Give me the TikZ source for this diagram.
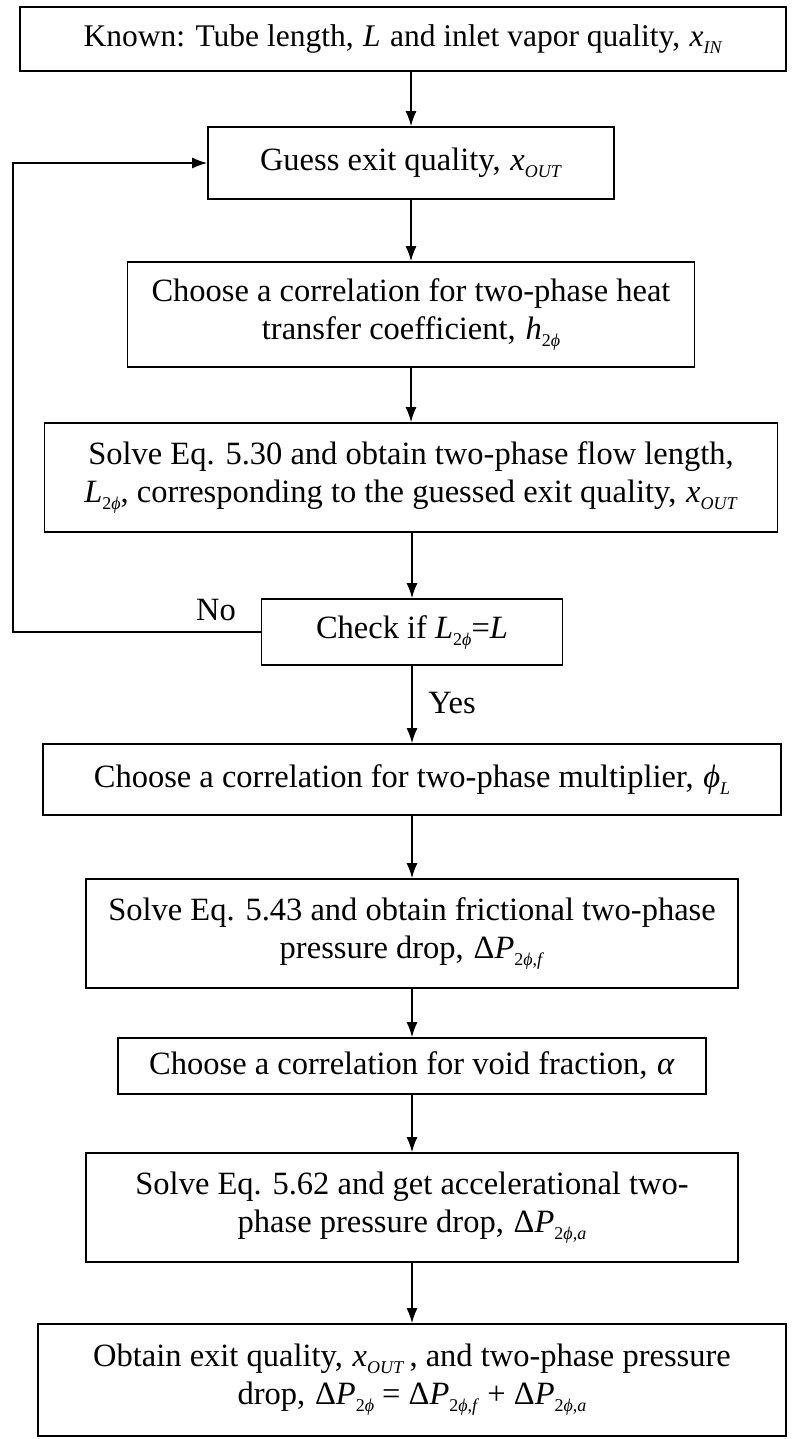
\documentclass[tikz,border=0pt]{standalone}
\usepackage{fontspec}
\setmainfont{Liberation Serif}
\usetikzlibrary{arrows.meta}
\newcommand{\mi}[1]{\textit{#1}}
\newcommand{\sbx}[1]{\raisebox{-7pt}{\fontsize{18}{18}\selectfont #1}}
\newcommand{\tph}{\sbx{2\textit{ϕ}}}
\newcommand{\gp}{\hspace{0.3em}}
\begin{document}
\begin{tikzpicture}[x=1pt,y=-1pt,
  box/.style={draw, line width=1.8pt, inner sep=0pt, align=center,
    font=\fontsize{32.5}{38}\selectfont},
  arr/.style={line width=1.3pt, -{Latex[length=15pt,width=11pt]}},
  lbl/.style={font=\fontsize{32.5}{38}\selectfont, inner sep=0pt}]
\useasboundingbox (0,0) rectangle (792,1439);
\node[box, minimum width=766pt, minimum height=64pt, font=\fontsize{31.5}{38}\selectfont] (b1) at (403,39)
  {Known: Tube length,\gp\mi{L}\gp and inlet vapor quality,\gp\mi{x}\sbx{\mi{IN}}};
\node[box, minimum width=406pt, minimum height=72pt] (b2) at (411,163)
  {Guess exit quality,\gp\mi{x}\sbx{\mi{OUT}}};
\node[box, minimum width=567pt, minimum height=105pt] (b3) at (411,314.5)
  {Choose a correlation for two-phase heat\\ transfer coefficient,\gp\mi{h}\tph};
\node[box, minimum width=733pt, minimum height=109pt] (b4) at (411,477.5)
  {Solve Eq. 5.30 and obtain two-phase flow length,\\ \mi{L}\tph, corresponding to the guessed exit quality,\gp\mi{x}\sbx{\mi{OUT}}};
\node[box, minimum width=301pt, minimum height=66pt] (b5) at (412,632)
  {Check if \mi{L}\tph=\mi{L}};
\node[box, minimum width=738pt, minimum height=71pt] (b6) at (412,779.5)
  {Choose a correlation for two-phase multiplier,\gp\mi{ϕ}\sbx{\mi{L}}};
\node[box, minimum width=652pt, minimum height=109pt] (b7) at (412,933.5)
  {Solve Eq. 5.43 and obtain frictional two-phase\\ pressure drop,\gp Δ\mi{P}\sbx{2\mi{ϕ},\mi{f}}};
\node[box, minimum width=588pt, minimum height=56pt] (b8) at (412,1066)
  {Choose a correlation for void fraction,\gp\mi{α}};
\node[box, minimum width=652pt, minimum height=109pt] (b9) at (412,1207.5)
  {Solve Eq. 5.62 and get accelerational two-\\ phase pressure drop,\gp Δ\mi{P}\sbx{2\mi{ϕ},\mi{a}}};
\node[box, minimum width=748pt, minimum height=112pt] (b10) at (412,1380)
  {Obtain exit quality,\gp\mi{x}\sbx{\mi{OUT}}\,, and two-phase pressure\\ drop,\gp Δ\mi{P}\tph\ = Δ\mi{P}\sbx{2\mi{ϕ},\mi{f}}\ + Δ\mi{P}\sbx{2\mi{ϕ},\mi{a}}};
\draw[arr] (b2.north |- b1.south) -- (b2.north);
\draw[arr] (b2.south) -- (b3.north);
\draw[arr] (b3.south) -- (b4.north);
\draw[arr] (b4.south -| b5.north) -- (b5.north);
\draw[arr] (b5.south) -- (b6.north);
\draw[arr] (b6.south) -- (b7.north);
\draw[arr] (b7.south) -- (b8.north);
\draw[arr] (b8.south) -- (b9.north);
\draw[arr] (b9.south) -- (b10.north);
\coordinate (lp) at (13,0);
\draw[arr] (b5.west) -- (b5.west -| lp) -- (b2.west -| lp) -- (b2.west);
\node[lbl] (no) at (216,610) {No};
\node[lbl] (yes) at (452,703) {Yes};
\end{tikzpicture}
\end{document}
